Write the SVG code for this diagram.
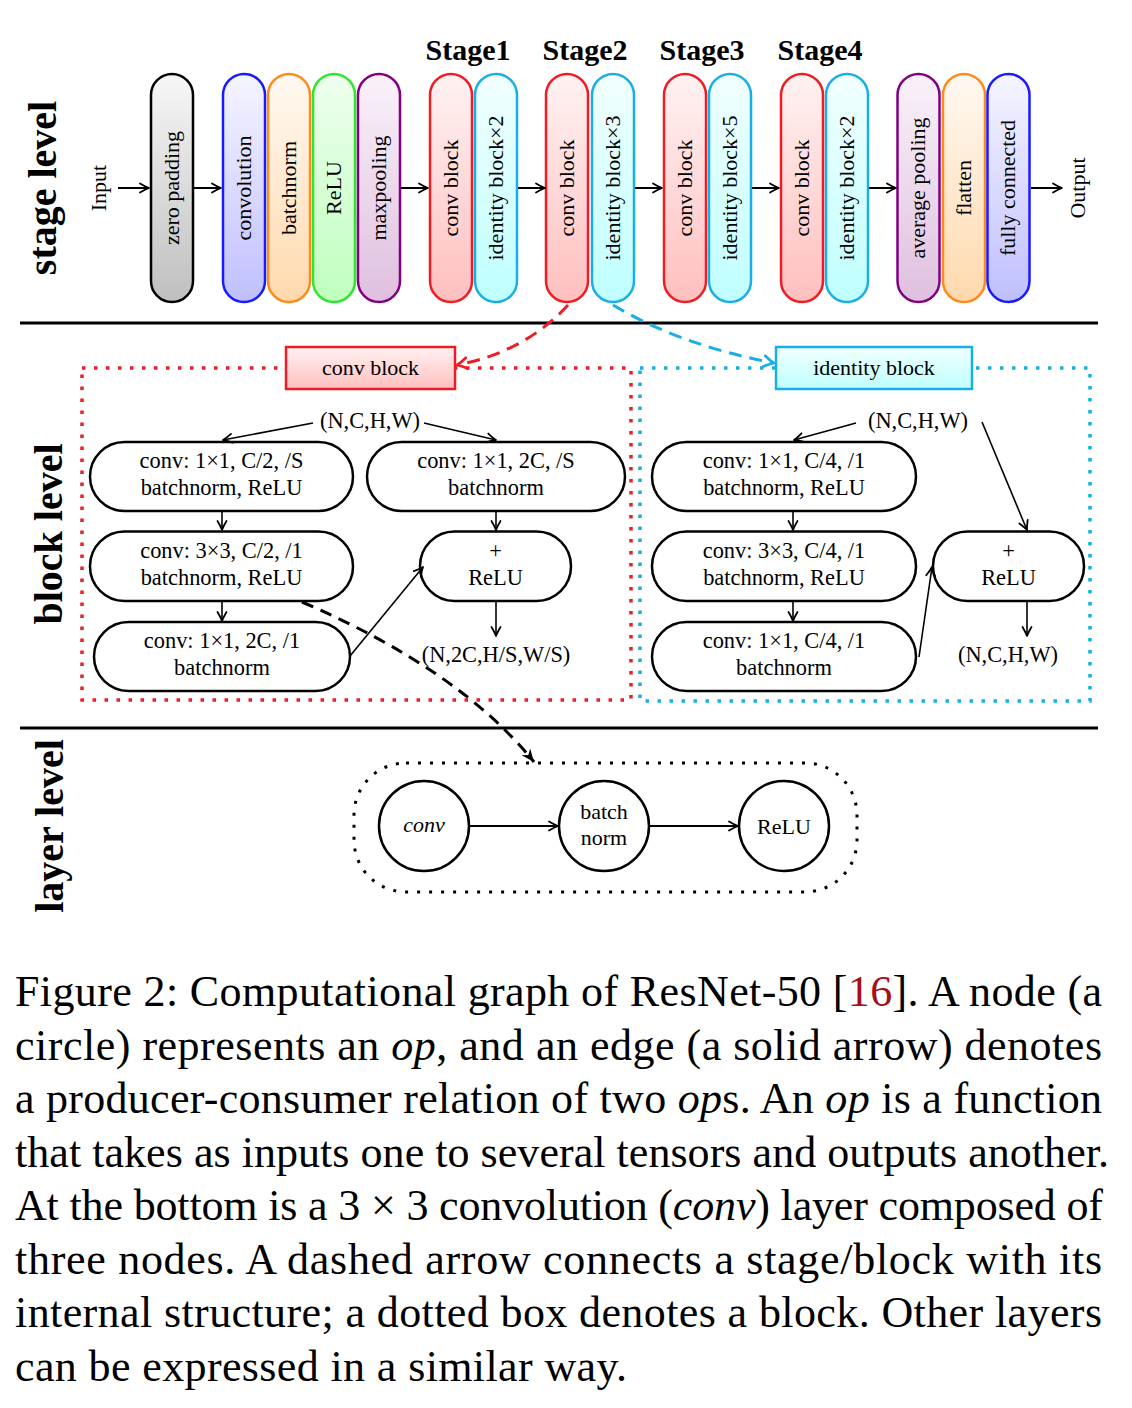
<svg xmlns="http://www.w3.org/2000/svg" width="1132" height="1408" viewBox="0 0 1132 1408">
<defs>
<style>
.t{font-family:"Liberation Serif","Times New Roman",serif;font-size:22px;fill:#000}
.bt{font-size:22.4px}
.m{text-anchor:middle}
.lvl{font-family:"Liberation Serif","Times New Roman",serif;font-weight:bold;font-size:40px;text-anchor:middle;fill:#000}
.stg{font-family:"Liberation Serif","Times New Roman",serif;font-weight:bold;font-size:30px;text-anchor:middle;fill:#000}
.cap{font-family:"Liberation Serif","Times New Roman",serif;font-size:44px;fill:#000}
.pill{stroke-width:2.5}
.node{fill:#fff;stroke:#000;stroke-width:2.5}
.arr{fill:none;stroke:#000;stroke-width:2}
.thin{fill:none;stroke:#000;stroke-width:1.6}
.sep{stroke:#000;stroke-width:3}
</style>
<linearGradient id="gGray" x1="0" y1="0" x2="0" y2="1"><stop offset="0" stop-color="#f7f7f7"/><stop offset="1" stop-color="#bfbfbf"/></linearGradient>
<linearGradient id="gBlue" x1="0" y1="0" x2="0" y2="1"><stop offset="0" stop-color="#f5f5ff"/><stop offset="1" stop-color="#bfbfff"/></linearGradient>
<linearGradient id="gOrange" x1="0" y1="0" x2="0" y2="1"><stop offset="0" stop-color="#fff9f2"/><stop offset="1" stop-color="#ffd9ad"/></linearGradient>
<linearGradient id="gGreen" x1="0" y1="0" x2="0" y2="1"><stop offset="0" stop-color="#eeffee"/><stop offset="1" stop-color="#bfffbf"/></linearGradient>
<linearGradient id="gPurple" x1="0" y1="0" x2="0" y2="1"><stop offset="0" stop-color="#f9f2f9"/><stop offset="1" stop-color="#dfbfdf"/></linearGradient>
<linearGradient id="gRed" x1="0" y1="0" x2="0" y2="1"><stop offset="0" stop-color="#fff2f2"/><stop offset="1" stop-color="#ffbfbf"/></linearGradient>
<linearGradient id="gCyan" x1="0" y1="0" x2="0" y2="1"><stop offset="0" stop-color="#f2ffff"/><stop offset="1" stop-color="#bfffff"/></linearGradient>
<marker id="ah" viewBox="-12 -7 14 14" refX="0" refY="0" markerWidth="14" markerHeight="14" markerUnits="userSpaceOnUse" orient="auto">
<path d="M-9,-4.5 Q-3.5,-1.2 0,0 Q-3.5,1.2 -9,4.5" fill="none" stroke="#000" stroke-width="1.8" stroke-linecap="round" stroke-linejoin="round"/>
</marker>
<marker id="ahR" viewBox="-14 -8 16 16" refX="0" refY="0" markerWidth="16" markerHeight="16" markerUnits="userSpaceOnUse" orient="auto">
<path d="M-10,-5.5 Q-4,-1.4 0,0 Q-4,1.4 -10,5.5" fill="none" stroke="#ee1c24" stroke-width="2.6" stroke-linecap="round" stroke-linejoin="round"/>
</marker>
<marker id="ahB" viewBox="-14 -8 16 16" refX="0" refY="0" markerWidth="16" markerHeight="16" markerUnits="userSpaceOnUse" orient="auto">
<path d="M-10,-5.5 Q-4,-1.4 0,0 Q-4,1.4 -10,5.5" fill="none" stroke="#1aaee6" stroke-width="2.6" stroke-linecap="round" stroke-linejoin="round"/>
</marker>
<marker id="ahK" viewBox="-15 -8 16 16" refX="0" refY="0" markerWidth="16" markerHeight="16" markerUnits="userSpaceOnUse" orient="auto">
<path d="M0,0 L-13,-5.5 L-9,0 L-13,5.5 Z" fill="#000"/>
</marker>
</defs>
<rect x="0" y="0" width="1132" height="1408" fill="#fff"/>

<!-- level labels -->
<g id="level-labels">
<text class="lvl" transform="translate(56,188) rotate(-90)">stage level</text>
<text class="lvl" transform="translate(61.5,534) rotate(-90)">block level</text>
<text class="lvl" transform="translate(63,826) rotate(-90)">layer level</text>
</g>

<!-- separators and frames -->
<g id="frames">
<line class="sep" x1="20" y1="323" x2="1098" y2="323"/>
<line class="sep" x1="20" y1="728" x2="1098" y2="728"/>
<rect x="82" y="368" width="549" height="332" fill="none" stroke="#ee1c24" stroke-width="3.5" stroke-dasharray="3.5 8.5"/>
<rect x="640" y="368" width="450" height="333" fill="none" stroke="#1aaee6" stroke-width="3.5" stroke-dasharray="3.5 8.5"/>
<rect x="354" y="763" width="503" height="129" rx="52" fill="none" stroke="#000" stroke-width="3" stroke-dasharray="3 9"/>
</g>

<!-- stage labels -->
<g id="stage-labels">
<text class="stg" x="468" y="60">Stage1</text>
<text class="stg" x="585" y="60">Stage2</text>
<text class="stg" x="702" y="60">Stage3</text>
<text class="stg" x="820" y="60">Stage4</text>
</g>

<!-- stage level nodes -->
<g id="input"><text class="t m" transform="translate(99,188) rotate(-90)" dy="0.3em">Input</text></g>
<g id="zero-padding"><rect class="pill" x="151" y="74" width="42" height="228" rx="21" fill="url(#gGray)" stroke="#000"/><text class="t m" transform="translate(172,188) rotate(-90)" dy="0.3em">zero padding</text></g>
<g id="convolution"><rect class="pill" x="223" y="74" width="42" height="228" rx="21" fill="url(#gBlue)" stroke="#1a1aff"/><text class="t m" transform="translate(244,188) rotate(-90)" dy="0.3em">convolution</text></g>
<g id="batchnorm"><rect class="pill" x="268" y="74" width="42" height="228" rx="21" fill="url(#gOrange)" stroke="#ff8a1c"/><text class="t m" transform="translate(289,188) rotate(-90)" dy="0.3em">batchnorm</text></g>
<g id="relu"><rect class="pill" x="313" y="74" width="42" height="228" rx="21" fill="url(#gGreen)" stroke="#2ee62e"/><text class="t m" transform="translate(334,188) rotate(-90)" dy="0.3em">ReLU</text></g>
<g id="maxpooling"><rect class="pill" x="358" y="74" width="42" height="228" rx="21" fill="url(#gPurple)" stroke="#800080"/><text class="t m" transform="translate(379,188) rotate(-90)" dy="0.3em">maxpooling</text></g>
<g id="s1-conv"><rect class="pill" x="430" y="74" width="42" height="228" rx="21" fill="url(#gRed)" stroke="#ee1c24"/><text class="t m" transform="translate(451,188) rotate(-90)" dy="0.3em">conv block</text></g>
<g id="s1-id"><rect class="pill" x="475" y="74" width="42" height="228" rx="21" fill="url(#gCyan)" stroke="#1aaee6"/><text class="t m" transform="translate(496,188) rotate(-90)" dy="0.3em">identity block×2</text></g>
<g id="s2-conv"><rect class="pill" x="546" y="74" width="42" height="228" rx="21" fill="url(#gRed)" stroke="#ee1c24"/><text class="t m" transform="translate(567,188) rotate(-90)" dy="0.3em">conv block</text></g>
<g id="s2-id"><rect class="pill" x="592" y="74" width="42" height="228" rx="21" fill="url(#gCyan)" stroke="#1aaee6"/><text class="t m" transform="translate(613,188) rotate(-90)" dy="0.3em">identity block×3</text></g>
<g id="s3-conv"><rect class="pill" x="664" y="74" width="42" height="228" rx="21" fill="url(#gRed)" stroke="#ee1c24"/><text class="t m" transform="translate(685,188) rotate(-90)" dy="0.3em">conv block</text></g>
<g id="s3-id"><rect class="pill" x="709" y="74" width="42" height="228" rx="21" fill="url(#gCyan)" stroke="#1aaee6"/><text class="t m" transform="translate(730,188) rotate(-90)" dy="0.3em">identity block×5</text></g>
<g id="s4-conv"><rect class="pill" x="781" y="74" width="42" height="228" rx="21" fill="url(#gRed)" stroke="#ee1c24"/><text class="t m" transform="translate(802,188) rotate(-90)" dy="0.3em">conv block</text></g>
<g id="s4-id"><rect class="pill" x="826" y="74" width="42" height="228" rx="21" fill="url(#gCyan)" stroke="#1aaee6"/><text class="t m" transform="translate(847,188) rotate(-90)" dy="0.3em">identity block×2</text></g>
<g id="avg-pooling"><rect class="pill" x="897.5" y="74" width="42" height="228" rx="21" fill="url(#gPurple)" stroke="#800080"/><text class="t m" transform="translate(918.5,188) rotate(-90)" dy="0.3em">average pooling</text></g>
<g id="flatten"><rect class="pill" x="943" y="74" width="42" height="228" rx="21" fill="url(#gOrange)" stroke="#ff8a1c"/><text class="t m" transform="translate(964,188) rotate(-90)" dy="0.3em">flatten</text></g>
<g id="fully-connected"><rect class="pill" x="987.5" y="74" width="42" height="228" rx="21" fill="url(#gBlue)" stroke="#1a1aff"/><text class="t m" transform="translate(1008.5,188) rotate(-90)" dy="0.3em">fully connected</text></g>
<g id="output"><text class="t m" transform="translate(1078,188) rotate(-90)" dy="0.3em">Output</text></g>

<!-- block labels -->
<g id="conv-block-label"><rect x="286" y="347" width="169" height="42" fill="url(#gRed)" stroke="#ee1c24" stroke-width="2.5"/><text class="t m" x="370.5" y="375">conv block</text></g>
<g id="identity-block-label"><rect x="776" y="347" width="196" height="42" fill="url(#gCyan)" stroke="#1aaee6" stroke-width="2.5"/><text class="t m" x="874" y="375">identity block</text></g>

<!-- conv block internals -->
<g id="cb-in"><text class="t bt m" x="370" y="428">(N,C,H,W)</text></g>
<g id="cb-a"><rect class="node" x="90" y="442" width="263" height="69" rx="34.5"/><text class="t bt m" x="221.5" y="468">conv: 1×1, C/2, /S</text><text class="t bt m" x="221.5" y="495">batchnorm, ReLU</text></g>
<g id="cb-b"><rect class="node" x="90" y="531.5" width="263" height="69.5" rx="34.5"/><text class="t bt m" x="221.5" y="557.5">conv: 3×3, C/2, /1</text><text class="t bt m" x="221.5" y="584.5">batchnorm, ReLU</text></g>
<g id="cb-c"><rect class="node" x="94" y="622" width="256" height="69" rx="34.5"/><text class="t bt m" x="222" y="648">conv: 1×1, 2C, /1</text><text class="t bt m" x="222" y="675">batchnorm</text></g>
<g id="cb-d"><rect class="node" x="367" y="442" width="258" height="69" rx="34.5"/><text class="t bt m" x="496" y="468">conv: 1×1, 2C, /S</text><text class="t bt m" x="496" y="495">batchnorm</text></g>
<g id="cb-e"><rect class="node" x="420" y="531.5" width="151" height="69.5" rx="34.5"/><text class="t bt m" x="495.5" y="558" font-size="24px">+</text><text class="t bt m" x="495.5" y="584.5">ReLU</text></g>
<g id="cb-out"><text class="t bt m" x="496" y="662">(N,2C,H/S,W/S)</text></g>

<!-- identity block internals -->
<g id="ib-in"><text class="t bt m" x="918" y="428">(N,C,H,W)</text></g>
<g id="ib-f"><rect class="node" x="652" y="442" width="264" height="69" rx="34.5"/><text class="t bt m" x="784" y="468">conv: 1×1, C/4, /1</text><text class="t bt m" x="784" y="495">batchnorm, ReLU</text></g>
<g id="ib-g"><rect class="node" x="652" y="531.5" width="264" height="69.5" rx="34.5"/><text class="t bt m" x="784" y="557.5">conv: 3×3, C/4, /1</text><text class="t bt m" x="784" y="584.5">batchnorm, ReLU</text></g>
<g id="ib-h"><rect class="node" x="652" y="622" width="264" height="69" rx="34.5"/><text class="t bt m" x="784" y="648">conv: 1×1, C/4, /1</text><text class="t bt m" x="784" y="675">batchnorm</text></g>
<g id="ib-i"><rect class="node" x="933" y="531.5" width="151" height="69.5" rx="34.5"/><text class="t bt m" x="1008.5" y="558" font-size="24px">+</text><text class="t bt m" x="1008.5" y="584.5">ReLU</text></g>
<g id="ib-out"><text class="t bt m" x="1008" y="662">(N,C,H,W)</text></g>

<!-- layer level -->
<g id="layer-conv"><circle class="node" cx="424" cy="826" r="45"/><text class="t m" x="424" y="832" font-style="italic">conv</text></g>
<g id="layer-bn"><circle class="node" cx="604" cy="826" r="45"/><text class="t m" x="604" y="819">batch</text><text class="t m" x="604" y="845">norm</text></g>
<g id="layer-relu"><circle class="node" cx="784" cy="826" r="45"/><text class="t m" x="784" y="834">ReLU</text></g>

<!-- connectors -->
<g id="connectors">
<line class="arr" x1="118" y1="188" x2="149" y2="188" marker-end="url(#ah)"/>
<line class="arr" x1="194" y1="188" x2="221" y2="188" marker-end="url(#ah)"/>
<line class="arr" x1="401" y1="188" x2="428" y2="188" marker-end="url(#ah)"/>
<line class="arr" x1="518" y1="188" x2="545" y2="188" marker-end="url(#ah)"/>
<line class="arr" x1="635" y1="188" x2="662" y2="188" marker-end="url(#ah)"/>
<line class="arr" x1="752" y1="188" x2="779" y2="188" marker-end="url(#ah)"/>
<line class="arr" x1="869" y1="188" x2="896" y2="188" marker-end="url(#ah)"/>
<line class="arr" x1="1031" y1="188" x2="1062" y2="188" marker-end="url(#ah)"/>

<path d="M568,305 Q525,352 457,365" fill="none" stroke="#ee1c24" stroke-width="3" stroke-dasharray="13 8" marker-end="url(#ahR)"/>
<path d="M613,305 Q680,345 774,363" fill="none" stroke="#1aaee6" stroke-width="3" stroke-dasharray="13 8" marker-end="url(#ahB)"/>

<line class="thin" x1="313" y1="423" x2="223" y2="440" marker-end="url(#ah)"/>
<line class="thin" x1="424" y1="423" x2="496" y2="440" marker-end="url(#ah)"/>
<line class="thin" x1="222" y1="511" x2="222" y2="530" marker-end="url(#ah)"/>
<line class="thin" x1="222" y1="601" x2="222" y2="621" marker-end="url(#ah)"/>
<line class="thin" x1="496" y1="511" x2="496" y2="530" marker-end="url(#ah)"/>
<line class="thin" x1="496" y1="601" x2="496" y2="636" marker-end="url(#ah)"/>
<line class="thin" x1="350" y1="656" x2="423" y2="567" marker-end="url(#ah)"/>

<line class="thin" x1="856" y1="423" x2="794" y2="440" marker-end="url(#ah)"/>
<line class="thin" x1="982" y1="422" x2="1027" y2="530" marker-end="url(#ah)"/>
<line class="thin" x1="793" y1="511" x2="793" y2="530" marker-end="url(#ah)"/>
<line class="thin" x1="793" y1="601" x2="793" y2="621" marker-end="url(#ah)"/>
<line class="thin" x1="919" y1="657" x2="932" y2="567" marker-end="url(#ah)"/>
<line class="thin" x1="1027" y1="601" x2="1027" y2="636" marker-end="url(#ah)"/>

<path d="M302,602 Q460,670 534,762" fill="none" stroke="#000" stroke-width="3" stroke-dasharray="12 8" marker-end="url(#ahK)"/>

<line class="arr" x1="469" y1="826" x2="558" y2="826" marker-end="url(#ah)"/>
<line class="arr" x1="649" y1="826" x2="738" y2="826" marker-end="url(#ah)"/>
</g>

<!-- caption -->
<g id="caption">
<text class="cap" x="15" y="1006" textLength="1087" lengthAdjust="spacing">Figure 2: Computational graph of ResNet-50 [<tspan fill="#a50f15">16</tspan>]. A node (a</text>
<text class="cap" x="15" y="1059.5" textLength="1087" lengthAdjust="spacing">circle) represents an <tspan font-style="italic">op</tspan>, and an edge (a solid arrow) denotes</text>
<text class="cap" x="15" y="1113" textLength="1087" lengthAdjust="spacing">a producer-consumer relation of two <tspan font-style="italic">op</tspan>s. An <tspan font-style="italic">op</tspan> is a function</text>
<text class="cap" x="15" y="1166.5" textLength="1094" lengthAdjust="spacing">that takes as inputs one to several tensors and outputs another.</text>
<text class="cap" x="15" y="1220" textLength="1088" lengthAdjust="spacing">At the bottom is a 3 × 3 convolution (<tspan font-style="italic">conv</tspan>) layer composed of</text>
<text class="cap" x="15" y="1273.5" textLength="1087" lengthAdjust="spacing">three nodes. A dashed arrow connects a stage/block with its</text>
<text class="cap" x="15" y="1327" textLength="1087" lengthAdjust="spacing">internal structure; a dotted box denotes a block. Other layers</text>
<text class="cap" x="15" y="1380.5" textLength="612" lengthAdjust="spacing">can be expressed in a similar way.</text>
</g>
</svg>
